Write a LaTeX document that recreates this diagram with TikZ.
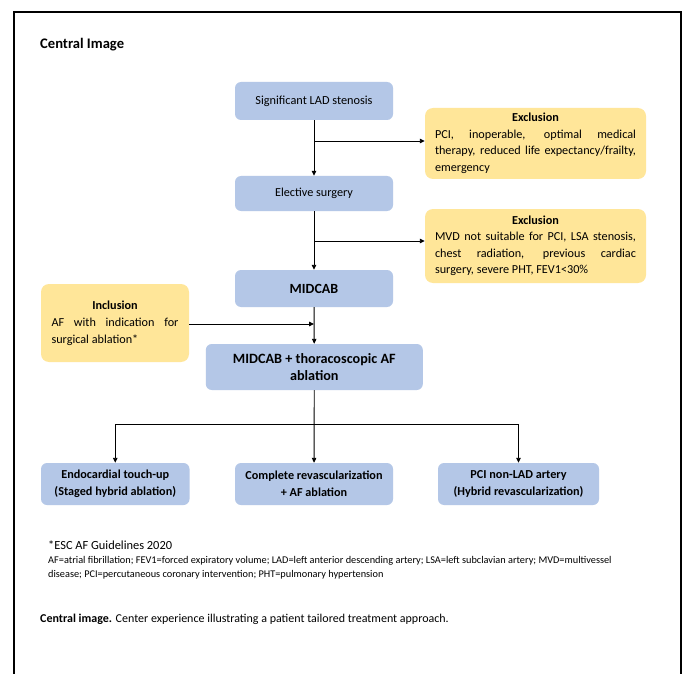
\documentclass[tikz,border=0pt]{standalone}
\usepackage{fontspec}
\setmainfont{Carlito}
\usetikzlibrary{arrows.meta,positioning,calc}
\definecolor{boxblue}{RGB}{180,199,231}
\definecolor{boxyellow}{RGB}{255,230,153}
\tikzset{
  bluebox/.style={fill=boxblue,draw=none,rounded corners=6pt,align=center,inner sep=2pt,text=black},
  yellowbox/.style={fill=boxyellow,draw=none,rounded corners=8pt,inner sep=0pt,text=black},
  conn/.style={line width=0.9pt,draw=black},
  arr/.style={conn,-{Triangle[length=5pt,width=4.5pt]}},
  plain/.style={inner sep=0pt,text=black}
}
\begin{document}
\begin{tikzpicture}[x=1pt,y=1pt]
\useasboundingbox (0,0) rectangle (683,-674);
\fill[white] (0,0) rectangle (683,-674);
% frame
\draw[line width=2pt] (14,-674) -- (14,-12) -- (681,-12) -- (681,-674);

\node[plain,anchor=west,font=\fontsize{14.6}{17}\selectfont\bfseries] (title) at (40,-45) {Central Image};

% main column
\node[bluebox,minimum width=158pt,minimum height=38pt,font=\fontsize{12.3}{15}\selectfont] (lad) at (314,-101) {Significant LAD stenosis};
\node[bluebox,minimum width=158pt,minimum height=35pt,font=\fontsize{12.2}{15}\selectfont] (elec) at (314,-193.5) {Elective surgery};
\node[bluebox,minimum width=158pt,minimum height=37pt,font=\fontsize{14}{17}\selectfont\bfseries] (mid) at (314,-288.5) {MIDCAB};
\node[bluebox,minimum width=217pt,minimum height=46pt,font=\fontsize{14.2}{17.5}\selectfont\bfseries] (midaf) at (314.3,-367) {MIDCAB + thoracoscopic AF\\ablation};

% exclusion / inclusion
\node[yellowbox,minimum width=221pt,minimum height=71pt] (ex1) at (535.5,-143.5) {%
  \begin{minipage}{201pt}\fontsize{12.2}{16.5}\selectfont\hyphenpenalty=10000\exhyphenpenalty=10000
  \makebox[\linewidth][c]{\bfseries Exclusion}\par
  PCI, inoperable, optimal medical\linebreak therapy, reduced life expectancy/frailty,\linebreak emergency\par
  \end{minipage}};
\node[yellowbox,minimum width=221pt,minimum height=74pt] (ex2) at (535.5,-246) {%
  \begin{minipage}{201pt}\fontsize{12.2}{16.5}\selectfont\hyphenpenalty=10000\exhyphenpenalty=10000
  \makebox[\linewidth][c]{\bfseries Exclusion}\par
  MVD not suitable for PCI, LSA stenosis,\linebreak chest radiation, previous cardiac\linebreak surgery, severe PHT, FEV1<30\%\par
  \end{minipage}};
\node[yellowbox,minimum width=148pt,minimum height=78pt] (inc) at (115,-323) {%
  \begin{minipage}{127pt}\fontsize{12.2}{17}\selectfont\hyphenpenalty=10000\exhyphenpenalty=10000
  \makebox[\linewidth][c]{\bfseries Inclusion}\par
  AF with indication for\linebreak surgical ablation*\par
  \end{minipage}};

% outcomes
\node[bluebox,minimum width=148.5pt,minimum height=42pt,font=\fontsize{12.2}{17}\selectfont\bfseries] (o1) at (115.25,-484) {Endocardial touch-up\\(Staged hybrid ablation)};
\node[bluebox,minimum width=158pt,minimum height=42pt,font=\fontsize{12.2}{17}\selectfont\bfseries] (o2) at (314,-484) {Complete revascularization\\+ AF ablation};
\node[bluebox,minimum width=161pt,minimum height=42pt,font=\fontsize{12.2}{17}\selectfont\bfseries] (o3) at (518.5,-484) {PCI non-LAD artery\\(Hybrid revascularization)};

% connectors
\draw[arr] (lad) -- (elec);
\coordinate (j1) at (314,-141);
\draw[arr] (j1) -- (j1 -| ex1.west);
\draw[arr] (elec) -- (mid);
\coordinate (j2) at (314,-241);
\draw[arr] (j2) -- (j2 -| ex2.west);
\draw[arr] (mid) -- (midaf);
\coordinate (j3) at (314,-324);
\draw[arr] (inc.east |- j3) -- (j3);
\coordinate (j4) at (314,-424);
\draw[arr] (midaf) -- (o2);
\draw[conn] (o1.north |- j4) -- (o3.north |- j4);
\draw[arr] (o1.north |- j4) -- (o1.north);
\draw[arr] (o3.north |- j4) -- (o3.north);

% footnotes
\node[plain,anchor=west,font=\fontsize{12.4}{14}\selectfont] (fn) at (48,-545) {*ESC AF Guidelines 2020};
\node[plain,anchor=west,font=\fontsize{10.3}{14}\selectfont] (abbr1) at (48,-561) {AF=atrial fibrillation; FEV1=forced expiratory volume; LAD=left anterior descending artery; LSA=left subclavian artery; MVD=multivessel};
\node[plain,anchor=west,font=\fontsize{10.3}{14}\selectfont] (abbr2) at (48,-575) {disease; PCI=percutaneous coronary intervention; PHT=pulmonary hypertension};
\node[plain,anchor=west,font=\fontsize{12}{14}\selectfont] (cap) at (40,-619) {\textbf{Central image.} Center experience illustrating a patient tailored treatment approach.};
\end{tikzpicture}
\end{document}
